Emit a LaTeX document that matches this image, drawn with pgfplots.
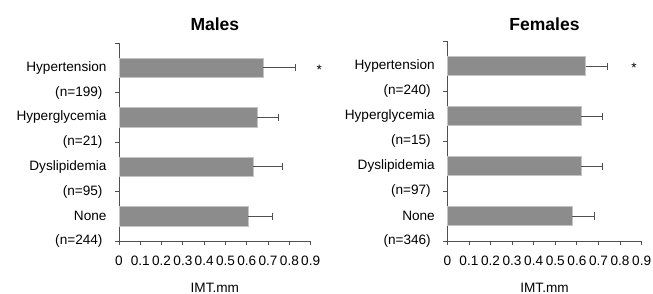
\documentclass[border=0pt]{standalone}
\usepackage{pgfplots}
\pgfplotsset{compat=1.18}
\usepackage{fontspec}
\setmainfont{Liberation Sans}
\definecolor{barfill}{HTML}{8C8C8C}
\definecolor{baredge}{HTML}{C4C4C4}
\definecolor{axisgray}{HTML}{505050}
\newcommand{\lblfont}{\fontsize{13.6bp}{15bp}\selectfont}
\begin{document}
\begin{tikzpicture}
\path[use as bounding box] (0bp,0bp) rectangle (653bp,294bp);
\pgfplotsset{
  myaxis/.style={
    xbar, scale only axis, anchor=south west,
    xmin=0, xmax=0.9, ymin=-0.5, ymax=3.5,
    axis x line*=bottom, axis y line*=left,
    axis line style={axisgray, line width=0.8pt},
    tick style={axisgray, line width=0.8pt},
    tick align=outside, major tick length=4bp,
    xtick={0,0.1,0.2,0.3,0.4,0.5,0.6,0.7,0.8,0.9},
    xticklabels={0,0.1,0.2,0.3,0.4,0.5,0.6,0.7,0.8,0.9},
    /pgf/number format/assume math mode=true,
    ytick={-0.5,0.5,1.5,2.5,3.5},
    extra y ticks={0,1,2,3},
    extra y tick style={major tick length=0pt},
    tick label style={font=\lblfont},
    xticklabel style={yshift=-7bp},
    yticklabel style={anchor=east, xshift=-9bp},
    bar width=0.39,
    clip=false,
    xlabel={IMT.mm},
    xlabel style={at={(axis description cs:0.5,0)}, anchor=base, yshift=-51bp, font=\lblfont},
    title style={at={(axis description cs:0.5,1)}, anchor=base, font=\bfseries\fontsize{17.5bp}{20bp}\selectfont},
    error bars/error bar style={axisgray, line width=0.8pt},
    error bars/error mark options={axisgray, line width=0.8pt, mark size=3.5bp, rotate=90},
  }
}
% Males
\begin{axis}[myaxis, at={(119bp,53bp)}, width=191.7bp, height=198bp,
  title={Males}, title style={yshift=7bp},
  yticklabels={(n=244),(n=95),(n=21),(n=199),{}},
  extra y tick labels={None,Dyslipidemia,Hyperglycemia,Hypertension}]
\addplot[fill=barfill, draw=baredge, line width=0.6pt,
  error bars/.cd, x dir=plus, x explicit]
  coordinates {(0.607,0) +- (0.115,0) (0.630,1) +- (0.138,0) (0.649,2) +- (0.101,0) (0.677,3) +- (0.151,0)};
\node[font=\lblfont, anchor=center, yshift=-2bp] at (axis cs:0.94,3) {*};
\end{axis}
% Females
\begin{axis}[myaxis, at={(447.3bp,53bp)}, width=194.4bp, height=200bp,
  title={Females}, title style={yshift=4.7bp},
  yticklabels={(n=346),(n=97),(n=15),(n=240),{}},
  extra y tick labels={None,Dyslipidemia,Hyperglycemia,Hypertension}]
\addplot[fill=barfill, draw=baredge, line width=0.6pt,
  error bars/.cd, x dir=plus, x explicit]
  coordinates {(0.579,0) +- (0.100,0) (0.619,1) +- (0.100,0) (0.619,2) +- (0.100,0) (0.640,3) +- (0.102,0)};
\node[font=\lblfont, anchor=center, yshift=-2bp] at (axis cs:0.865,3) {*};
\end{axis}
\end{tikzpicture}
\end{document}
